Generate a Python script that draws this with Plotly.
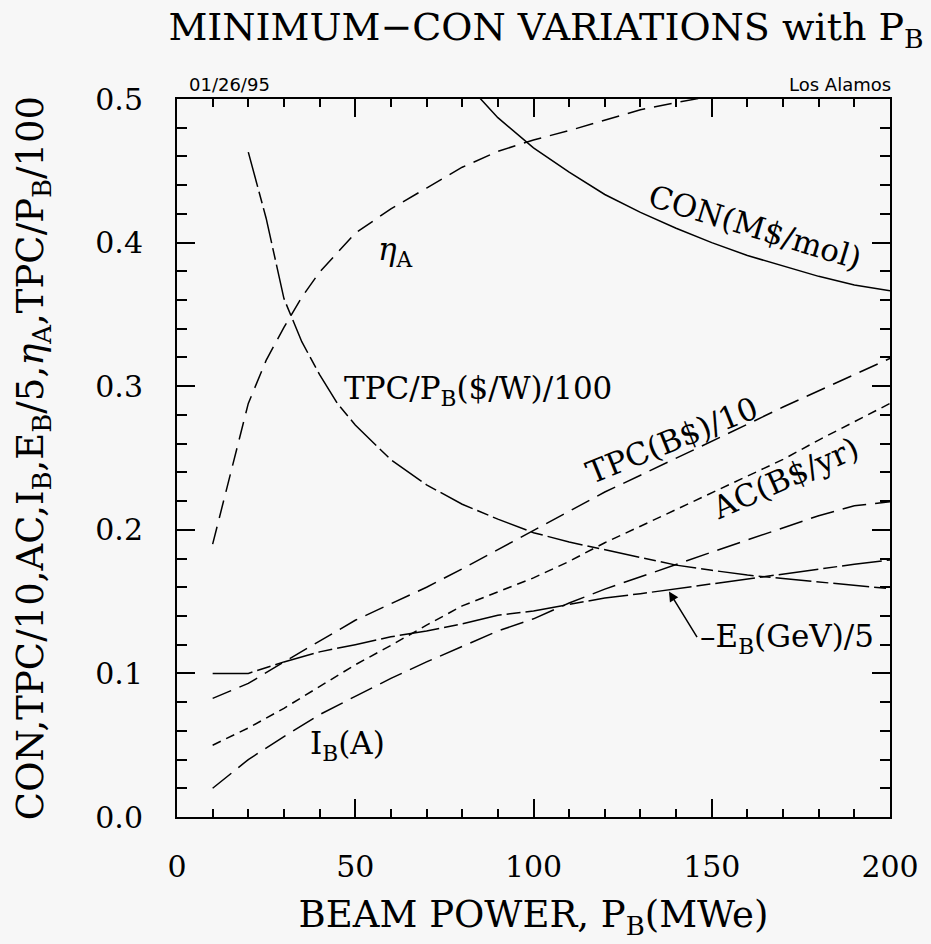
import plotly.graph_objects as go

# ---- data ----
con_x = [80, 90, 100, 110, 120, 130, 140, 150, 160, 170, 180, 190, 200]
con_y = [0.514, 0.487, 0.466, 0.449, 0.4335, 0.421, 0.410, 0.400, 0.391, 0.384, 0.3765, 0.3705, 0.3665]

eta_x = [10, 20, 25, 30, 35, 40, 50, 60, 70, 80, 90, 100, 110, 120, 130, 140, 150]
eta_y = [0.190, 0.288, 0.318, 0.341, 0.362, 0.3795, 0.4065, 0.4235, 0.438, 0.4525, 0.4635, 0.4715,
         0.478, 0.485, 0.4925, 0.4975, 0.502]

tpcpb_x = [20, 25, 30, 35, 40, 45, 50, 60, 70, 80, 90, 100, 110, 120, 130, 140, 150, 160, 170, 180, 190, 200]
tpcpb_y = [0.463, 0.417, 0.361, 0.331, 0.308, 0.288, 0.273, 0.2488, 0.2313, 0.2178, 0.2074, 0.198,
           0.1915, 0.186, 0.1805, 0.1754, 0.1718, 0.1685, 0.166, 0.1636, 0.161, 0.159]

pb_x = [10, 20, 30, 40, 50, 60, 70, 80, 90, 100, 110, 120, 130, 140, 150, 160, 170, 180, 190, 200]

tpc10_y = [0.0826, 0.093, 0.108, 0.1225, 0.137, 0.1485, 0.160, 0.1728, 0.1862, 0.1995, 0.213, 0.2263,
           0.238, 0.2497, 0.2614, 0.2735, 0.2855, 0.2968, 0.308, 0.3194]
ac_y = [0.050, 0.062, 0.0757, 0.091, 0.106, 0.1195, 0.1336, 0.147, 0.157, 0.1665, 0.178, 0.191,
        0.2025, 0.214, 0.226, 0.2375, 0.249, 0.2625, 0.275, 0.288]
ib_y = [0.020, 0.040, 0.056, 0.0713, 0.084, 0.0965, 0.108, 0.1185, 0.1295, 0.138, 0.149, 0.1587,
        0.167, 0.1758, 0.1845, 0.193, 0.2015, 0.2098, 0.2168, 0.2195]
eb_y = [0.100, 0.100, 0.108, 0.115, 0.120, 0.1255, 0.1295, 0.1345, 0.1405, 0.1435, 0.148, 0.1525,
        0.1555, 0.159, 0.1625, 0.166, 0.1695, 0.1728, 0.176, 0.179]

x_ticks = [0, 50, 100, 150, 200]
y_ticks = [0.0, 0.1, 0.2, 0.3, 0.4, 0.5]
y_tick_labels = ["0.0", "0.1", "0.2", "0.3", "0.4", "0.5"]

SERIF = "DejaVu Serif"
BG = "#f7f7f7"
LW = 1.5

fig = go.Figure()

def add_line(x, y, dash):
    fig.add_trace(go.Scatter(x=x, y=y, mode="lines",
                             line=dict(color="black", width=LW, dash=dash),
                             showlegend=False, hoverinfo="skip"))

add_line(con_x, con_y, "solid")
add_line(eta_x, eta_y, "18px,9px")
add_line(tpcpb_x, tpcpb_y, "36px,5px,12px,5px")
add_line(pb_x, tpc10_y, "20px,9px")
add_line(pb_x, ac_y, "9px,6px")
add_line(pb_x, ib_y, "24px,9px")
add_line(pb_x, eb_y, "40px,5px,14px,5px")

lab_font = dict(family=SERIF, size=31, color="black")
annos = [
    dict(x=61.4, y=0.3935, text="<i>η</i><sub>A</sub>", textangle=0),
    dict(x=162.2, y=0.411, text="CON(M$/mol)", textangle=17),
    dict(x=84.4, y=0.2973, text="TPC/P<sub>B</sub>($/W)/100", textangle=0),
    dict(x=138.9, y=0.2625, text="TPC(B$)/10", textangle=-22),
    dict(x=170.6, y=0.236, text="AC(B$/yr)", textangle=-24),
    dict(x=47.8, y=0.050, text="I<sub>B</sub>(A)", textangle=0),
]
for a in annos:
    fig.add_annotation(xref="x", yref="y", showarrow=False, font=lab_font,
                       xanchor="center", yanchor="middle", **a)

# E_B label with arrow
fig.add_annotation(xref="x", yref="y", x=138, y=0.157, ax=29, ay=47, text="",
                   showarrow=True, arrowhead=2, arrowsize=1.3, arrowwidth=1.5, arrowcolor="black")
fig.add_annotation(xref="x", yref="y", x=146.1, y=0.124, text="–E<sub>B</sub>(GeV)/5",
                   showarrow=False, font=lab_font, xanchor="left", yanchor="middle")

# small header texts
fig.add_annotation(xref="paper", yref="paper", x=0.0139, y=1.0195, text="01/26/95",
                   showarrow=False, xanchor="left", yanchor="middle",
                   font=dict(family="DejaVu Sans", size=18, color="black"))
fig.add_annotation(xref="paper", yref="paper", x=1.0, y=1.0195, text="Los Alamos",
                   showarrow=False, xanchor="right", yanchor="middle", xshift=3,
                   font=dict(family="DejaVu Sans", size=18, color="black"))

axis_common = dict(
    showgrid=False, zeroline=False, showline=True, linecolor="black", linewidth=2,
    mirror="allticks", ticks="inside", ticklen=18, tickwidth=1.5, tickcolor="black",
    tickfont=dict(family=SERIF, size=30, color="black"),
)

fig.update_xaxes(range=[0, 200], tickvals=x_ticks, ticktext=[str(v) for v in x_ticks],
                 minor=dict(dtick=10, ticks="inside", ticklen=8, tickwidth=1.5, tickcolor="black"),
                 ticklabelstandoff=22,
                 title=dict(text="BEAM POWER, P<sub>B</sub>(MWe)", standoff=18,
                            font=dict(family=SERIF, size=37, color="black")),
                 **axis_common)
fig.update_yaxes(range=[0, 0.5], tickvals=y_ticks, ticktext=y_tick_labels,
                 minor=dict(dtick=0.02, ticks="inside", ticklen=10, tickwidth=1.5, tickcolor="black"),
                 ticklabelstandoff=26,
                 title=dict(text="CON,TPC/10,AC,I<sub>B</sub>,E<sub>B</sub>/5,<i>η</i><sub>A</sub>,TPC/P<sub>B</sub>/100",
                            standoff=40, font=dict(family=SERIF, size=37, color="black")),
                 **axis_common)

fig.update_layout(
    width=931, height=944,
    margin=dict(l=177, r=34, t=99, b=127),
    paper_bgcolor=BG, plot_bgcolor=BG,
    title=dict(text="MINIMUM−CON VARIATIONS with P<sub>B</sub>",
               xref="container", yref="container", x=546 / 931, y=1 - 27 / 944,
               xanchor="center", yanchor="middle",
               font=dict(family=SERIF, size=38, color="black")),
)

fig.write_html("out.html")
